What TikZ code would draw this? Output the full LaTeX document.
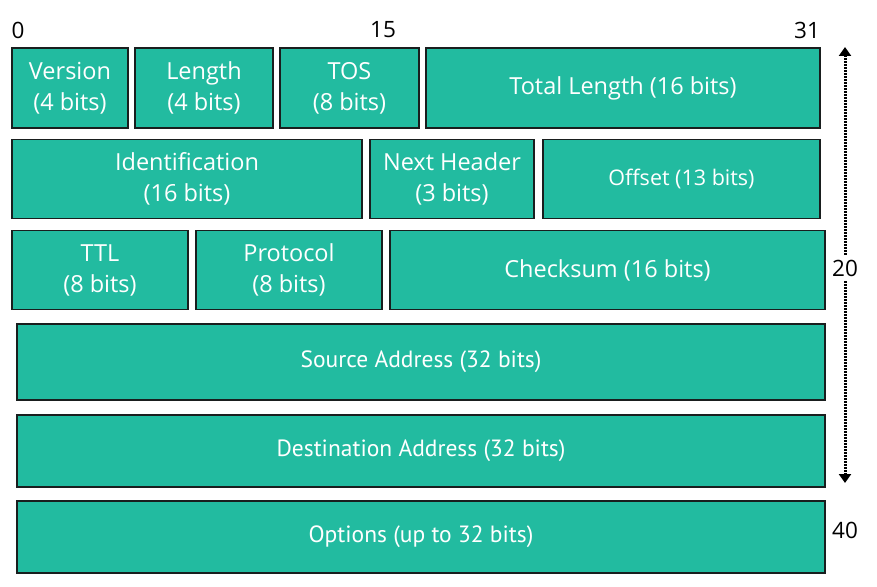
\documentclass[tikz,border=0pt]{standalone}
\usepackage{fontspec}
\setmainfont{Open Sans}
\newfontfamily\narrowfont{PT Sans}
\usetikzlibrary{arrows.meta}

\definecolor{fieldteal}{RGB}{34,187,160}
\definecolor{fieldline}{RGB}{25,30,30}

\tikzstyle{field} = [ draw=fieldline,line width=1.4pt,fill=fieldteal,text=white,
                      align=center,inner sep=0pt,
                      font=\fontsize{23.5}{31}\selectfont]
\tikzstyle{small} = [ font=\fontsize{21.5}{26}\selectfont]
\tikzstyle{wide}  = [ font=\narrowfont\fontsize{23.5}{26}\selectfont]
\tikzstyle{bitnum} = [ font=\fontsize{22.5}{24}\selectfont,inner sep=0pt]
\tikzstyle{span} = [ line width=3pt,dash pattern=on 1.6pt off 1.4pt,
                     -{Triangle[length=9pt,width=12pt]}]

\begin{document}
\begin{tikzpicture}[x=1pt,y=-1pt]
  \useasboundingbox (0,0) rectangle (877,586);

  \node[field,minimum width=116,minimum height=80] at (70,88) (ver)    {Version \\ (4 bits)};
  \node[field,minimum width=138,minimum height=80] at (204,88) (len)   {Length \\ (4 bits)};
  \node[field,minimum width=139,minimum height=80] at (349.5,88) (tos) {TOS \\ (8 bits)};
  \node[field,minimum width=394,minimum height=80] at (623,88) (total) {Total Length (16 bits)};

  \node[field,minimum width=350,minimum height=79] at (187,179) (ident)  {Identification \\ (16 bits)};
  \node[field,minimum width=164,minimum height=79] at (452,179) (next)   {Next Header \\ (3 bits)};
  \node[field,small,minimum width=277,minimum height=79] at (681.5,179) (offset) {Offset (13 bits)};

  \node[field,minimum width=176,minimum height=79] at (100,270) (ttl)   {TTL \\ (8 bits)};
  \node[field,minimum width=186,minimum height=79] at (289,270) (proto) {Protocol \\ (8 bits)};
  \node[field,minimum width=435,minimum height=79] at (607.5,270) (check) {Checksum (16 bits)};

  \node[field,wide,minimum width=808,minimum height=76] at (421,362) (src) {Source Address (32 bits)};
  \node[field,wide,minimum width=808,minimum height=72] at (421,451) (dst) {Destination Address (32 bits)};
  \node[field,wide,minimum width=808,minimum height=72] at (421,537) (opt) {Options (up to 32 bits)};

  \node[bitnum] at (18,30) (b0)   {0};
  \node[bitnum] at (383,30) (b15) {15};
  \node[bitnum] at (807,30) (b31) {31};
  \node[bitnum] at (845,268) (w20) {20};
  \node[bitnum] at (845,530) (w40) {40};

  \coordinate (top) at (845,47);
  \coordinate (bot) at (845,483);
  \draw[span] (w20.north) ++(0,-5) -- (top);
  \draw[span] (w20.south) ++(0,5) -- (bot);
\end{tikzpicture}
\end{document}
